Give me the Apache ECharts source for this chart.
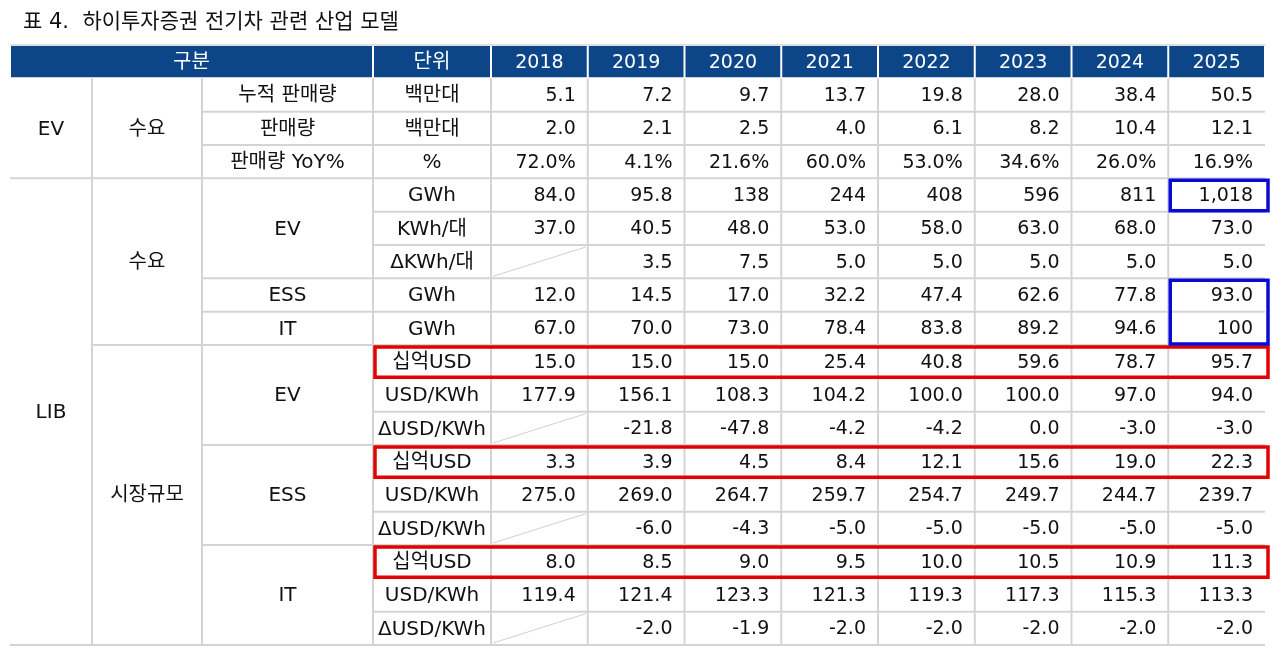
<!DOCTYPE html>
<html>
<head>
<meta charset="utf-8">
<script src="https://cdn.jsdelivr.net/npm/echarts@6/dist/echarts.min.js"></script>
<style>
  html, body { margin: 0; padding: 0; background: #fff; }
  #table { width: 1280px; height: 648px; }
</style>
</head>
<body>
<div id="table"></div>
<script>
// 표 데이터
const years = ['2018', '2019', '2020', '2021', '2022', '2023', '2024', '2025']

const sectionLabels = ['EV', 'LIB']
const sectionSpans = [3, 14]
const groupLabels = ['수요', '수요', '시장규모']
const groupSpans = [3, 5, 9]
const itemLabels = ['누적 판매량', '판매량', '판매량 YoY%', 'EV', 'ESS', 'IT', 'EV', 'ESS', 'IT']
const itemSpans = [1, 1, 1, 3, 1, 1, 3, 3, 3]

const units = ['백만대', '백만대', '%', 'GWh', 'KWh/대', 'ΔKWh/대', 'GWh', 'GWh',
    '십억USD', 'USD/KWh', 'ΔUSD/KWh', '십억USD', 'USD/KWh', 'ΔUSD/KWh',
    '십억USD', 'USD/KWh', 'ΔUSD/KWh']

const evCumSales = [5.1, 7.2, 9.7, 13.7, 19.8, 28.0, 38.4, 50.5]
const evSales = [2.0, 2.1, 2.5, 4.0, 6.1, 8.2, 10.4, 12.1]
const evSalesYoY = [72.0, 4.1, 21.6, 60.0, 53.0, 34.6, 26.0, 16.9]
const evGWh = [84.0, 95.8, 138, 244, 408, 596, 811, 1018]
const evKWhPerCar = [37.0, 40.5, 48.0, 53.0, 58.0, 63.0, 68.0, 73.0]
const evKWhDelta = [null, 3.5, 7.5, 5.0, 5.0, 5.0, 5.0, 5.0]
const essGWh = [12.0, 14.5, 17.0, 32.2, 47.4, 62.6, 77.8, 93.0]
const itGWh = [67.0, 70.0, 73.0, 78.4, 83.8, 89.2, 94.6, 100]
const evMarket = [15.0, 15.0, 15.0, 25.4, 40.8, 59.6, 78.7, 95.7]
const evPrice = [177.9, 156.1, 108.3, 104.2, 100.0, 100.0, 97.0, 94.0]
const evPriceDelta = [null, -21.8, -47.8, -4.2, -4.2, 0.0, -3.0, -3.0]
const essMarket = [3.3, 3.9, 4.5, 8.4, 12.1, 15.6, 19.0, 22.3]
const essPrice = [275.0, 269.0, 264.7, 259.7, 254.7, 249.7, 244.7, 239.7]
const essPriceDelta = [null, -6.0, -4.3, -5.0, -5.0, -5.0, -5.0, -5.0]
const itMarket = [8.0, 8.5, 9.0, 9.5, 10.0, 10.5, 10.9, 11.3]
const itPrice = [119.4, 121.4, 123.3, 121.3, 119.3, 117.3, 115.3, 113.3]
const itPriceDelta = [null, -2.0, -1.9, -2.0, -2.0, -2.0, -2.0, -2.0]

const rows = [evCumSales, evSales, evSalesYoY, evGWh, evKWhPerCar, evKWhDelta, essGWh, itGWh,
    evMarket, evPrice, evPriceDelta, essMarket, essPrice, essPriceDelta, itMarket, itPrice, itPriceDelta]

// 강조 박스 (행 번호는 본문 기준 0부터)
const redRows = [8, 11, 14]
const blueRanges = [[3, 3], [6, 7]]

// 레이아웃
const colWidths = [82, 110, 171, 118, 96.75, 96.75, 96.75, 96.75, 96.75, 96.75, 96.75, 96.75]
const colEdges = [0]
colWidths.forEach(w => colEdges.push(colEdges[colEdges.length - 1] + w))
const tableWidth = colEdges[colEdges.length - 1]
const rowCount = rows.length + 1

const headColor = '#0c4689'
const lineColor = '#d4d4d4'
// 숫자/영문은 넓은 글꼴, 한글은 CJK 글꼴로
const font = '"DejaVu Sans", "Noto Sans CJK KR", sans-serif'

function fmt(v, unit) {
    if (v === null) return null
    if (unit === '%') return v.toFixed(1) + '%'
    if (unit === 'GWh' && v >= 100) return String(Math.round(v)).replace(/\B(?=(\d{3})+(?!\d))/g, ',')
    return v.toFixed(1)
}

// 셀 목록 만들기
const cells = []
function addCell(c0, c1, r0, r1, text, kind, align) {
    cells.push({ c0, c1, r0, r1, text, kind, align: align || 'center' })
}

addCell(0, 3, 0, 1, '구분', 'head')
addCell(3, 4, 0, 1, '단위', 'head')
years.forEach((y, i) => addCell(4 + i, 5 + i, 0, 1, y, 'head'))

function addSpans(col, labels, spans) {
    let r = 1
    labels.forEach((label, i) => {
        addCell(col, col + 1, r, r + spans[i], label, 'body')
        r += spans[i]
    })
}
addSpans(0, sectionLabels, sectionSpans)
addSpans(1, groupLabels, groupSpans)
addSpans(2, itemLabels, itemSpans)

units.forEach((u, i) => {
    addCell(3, 4, i + 1, i + 2, u, 'body')
    rows[i].forEach((v, j) => {
        addCell(4 + j, 5 + j, i + 1, i + 2, fmt(v, u), 'body', 'right')
    })
})

const boxes = []
redRows.forEach(r => boxes.push({ c0: 3, c1: 12, r0: r + 1, r1: r + 2, color: '#e30000' }))
blueRanges.forEach(([a, b]) => boxes.push({ c0: 11, c1: 12, r0: a + 1, r1: b + 2, color: '#0a0ad6' }))

function renderCell(params, api) {
    const c = cells[params.dataIndex]
    const p0 = api.coord([api.value(0), api.value(2)])
    const p1 = api.coord([api.value(1), api.value(3)])
    const x0 = p0[0], y0 = p0[1], x1 = p1[0], y1 = p1[1]
    const children = []

    if (c.kind === 'head') {
        children.push({
            type: 'rect',
            shape: { x: x0 + 1, y: y0 + 1, width: x1 - x0 - 2, height: y1 - y0 - 2 },
            style: { fill: headColor }
        })
        children.push({
            type: 'line',
            shape: { x1: x0, y1: y0, x2: x1, y2: y0 },
            style: { stroke: lineColor, lineWidth: 1.5 }
        })
        children.push({
            type: 'text',
            style: {
                text: c.text, x: (x0 + x1) / 2, y: (y0 + y1) / 2 + 1,
                align: 'center', verticalAlign: 'middle',
                fill: '#fff', fontSize: c.c0 < 4 ? 20 : 19, fontFamily: font
            }
        })
        return { type: 'group', children }
    }

    children.push({
        type: 'line',
        shape: { x1: x0, y1: y1, x2: x1, y2: y1 },
        style: { stroke: lineColor, lineWidth: 2 }
    })
    if (c.c1 < colWidths.length) {
        children.push({
            type: 'line',
            shape: { x1: x1, y1: y0, x2: x1, y2: y1 },
            style: { stroke: lineColor, lineWidth: 2 }
        })
    }
    if (c.text === null) {
        // 값이 없는 칸은 대각선
        children.push({
            type: 'line',
            shape: { x1: x0 + 2, y1: y1 - 2, x2: x1 - 2, y2: y0 + 2 },
            style: { stroke: '#cfcfcf', lineWidth: 1 }
        })
    } else {
        children.push({
            type: 'text',
            style: {
                text: c.text,
                x: c.align === 'right' ? x1 - 12 : (x0 + x1) / 2,
                y: (y0 + y1) / 2 + 1,
                align: c.align, verticalAlign: 'middle',
                fill: '#111', fontSize: c.c0 < 4 ? 20 : 19, fontFamily: font
            }
        })
    }
    return { type: 'group', children }
}

function renderBox(params, api) {
    const b = boxes[params.dataIndex]
    const p0 = api.coord([api.value(0), api.value(2)])
    const p1 = api.coord([api.value(1), api.value(3)])
    return {
        type: 'rect',
        shape: { x: p0[0] + 2, y: p0[1] + 2, width: p1[0] - p0[0] + 1, height: p1[1] - p0[1] - 3 },
        style: { fill: 'none', stroke: b.color, lineWidth: 3.5 }
    }
}

let myChart = echarts.init(document.querySelector('#table'))

const option = {
    animation: false,
    title: {
        text: '표 4.  하이투자증권 전기차 관련 산업 모델',
        left: 18,
        top: 7,
        textStyle: {
            color: '#111',
            fontSize: 21,
            fontWeight: 'normal',
            fontFamily: font
        }
    },
    grid: {
        left: 10,
        right: 1280 - 10 - tableWidth,
        top: 45,
        bottom: 3
    },
    xAxis: { type: 'value', min: 0, max: tableWidth, show: false },
    yAxis: { type: 'value', min: 0, max: rowCount, inverse: true, show: false },
    series: [
        {
            type: 'custom',
            renderItem: renderCell,
            data: cells.map(c => [colEdges[c.c0], colEdges[c.c1], c.r0, c.r1]),
            silent: true
        },
        {
            type: 'custom',
            renderItem: renderBox,
            data: boxes.map(b => [colEdges[b.c0], colEdges[b.c1], b.r0, b.r1]),
            silent: true
        }
    ]
}

myChart.setOption(option)
</script>
</body>
</html>
